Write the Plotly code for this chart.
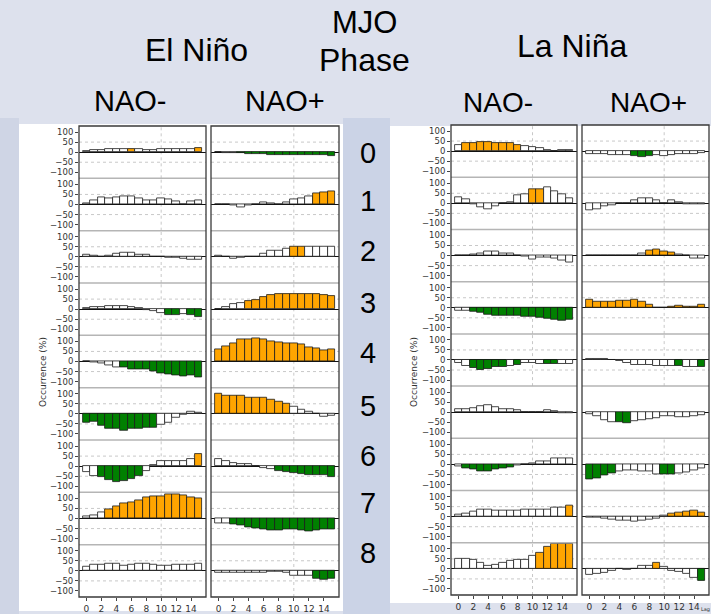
import plotly.graph_objects as go

W, H = 711, 614

lags = list(range(16))
phases = ["0", "1", "2", "3", "4", "5", "6", "7", "8"]
ytick_vals = [-100, -50, 0, 50, 100]
ytick_text = ["\u2212100", "\u221250", "0", "50", "100"]
xtick_vals = [0, 2, 4, 6, 8, 10, 12, 14]
xtick_text = ["0", "2", "4", "6", "8", "10", "12", "14"]

# Occurrence (%) by lag, rows = MJO phase 0..8
elnino_naom = [
    [8, 9, 11, 14, 15, 15, 15, 14, 13, 13, 14, 14, 14, 14, 14, 22],
    [4, 22, 37, 33, 37, 40, 40, 33, 19, 22, 32, 27, 16, 3, 16, 20],
    [10, 8, 3, 7, 15, 22, 20, 12, 12, 3, -1, -2, -5, -8, -13, -13],
    [4, 10, 12, 14, 14, 14, 10, 4, -6, -10, -20, -27, -27, -25, -30, -40],
    [3, -3, -8, -18, -28, -30, -40, -38, -38, -50, -57, -62, -67, -72, -70, -78],
    [-42, -40, -58, -72, -76, -85, -75, -75, -70, -70, -55, -42, -20, -5, 10, 5],
    [-30, -48, -55, -70, -77, -75, -65, -47, -25, 8, 25, 28, 28, 28, 38, 58],
    [12, 15, 30, 48, 60, 75, 78, 90, 105, 110, 110, 120, 120, 116, 105, 100],
    [22, 30, 33, 35, 38, 28, 30, 38, 37, 33, 28, 28, 33, 30, 30, 35],
]
elnino_naom_sig = [
    "wwwwwwowwwwwwwwo", "wwwwwwwwwwwwwwww", "wwwwwwwwwwwwwwww",
    "wwwwwwwwwwwggwgg", "wwwwwggggggggggg", "ggggggggggwwwwww",
    "wwggggggwwwwwwwo", "wwwooooooooooooo", "wwwwwwwwwwwwwwww",
]
elnino_naop = [
    [-1, -2, -3, -6, -8, -8, -10, -12, -12, -12, -12, -13, -13, -13, -15, -20],
    [3, 3, -3, -12, -3, 2, 10, 7, 3, 12, 25, 33, 42, 55, 60, 67],
    [5, 0, -7, -5, 0, 3, 18, 30, 30, 42, 50, 52, 52, 52, 52, 52],
    [3, 12, 25, 30, 42, 48, 58, 68, 73, 75, 73, 73, 77, 73, 72, 65],
    [60, 75, 92, 111, 112, 116, 112, 100, 95, 90, 88, 85, 72, 65, 55, 62],
    [100, 90, 90, 90, 82, 80, 80, 68, 58, 52, 35, 20, 10, 2, -12, -10],
    [35, 25, 15, 10, 12, 3, -8, -12, -22, -30, -35, -40, -45, -45, -45, -52],
    [-22, -25, -30, -33, -42, -48, -52, -58, -58, -55, -55, -58, -62, -60, -55, -55],
    [-8, -7, -8, -8, -8, -8, -8, -3, -3, -8, -22, -22, -25, -40, -42, -40],
]
elnino_naop_sig = [
    "wwwggggggggggggg", "wwwwwwwwwwwwwooo", "wwwwwwwwwwoowwww",
    "wwwwoooooooooooo", "oooooooooooooooo", "oooooooooowwwwww",
    "wwwwwwwwgggggggg", "wwgggggggggggggg", "wwwwwwwwwwwwwggg",
]
lanina_naom = [
    [30, 38, 42, 47, 45, 42, 42, 38, 32, 25, 20, 15, 5, 3, 5, 5],
    [32, 20, -5, -17, -27, -15, 0, 5, 38, 45, 72, 72, 80, 60, 45, 25],
    [2, 2, 5, 10, 20, 20, 12, 10, 3, -3, -17, -10, -8, -12, -25, -32],
    [-15, -15, -18, -25, -32, -38, -38, -38, -40, -45, -45, -48, -55, -60, -65, -58],
    [-12, -28, -38, -47, -42, -32, -32, -30, -25, -12, -15, -18, -18, -18, -18, -18],
    [15, 18, 22, 30, 35, 25, 18, 15, 10, 3, 0, 3, 10, 5, -3, -5],
    [-8, -20, -25, -33, -35, -25, -20, -15, -5, 3, 8, 15, 18, 28, 32, 28],
    [12, 18, 25, 35, 35, 30, 28, 28, 30, 35, 35, 35, 35, 43, 45, 53],
    [50, 50, 45, 28, 18, 20, 28, 40, 45, 45, 65, 82, 110, 125, 125, 125],
]
lanina_naom_sig = [
    "woooooooowwwwwww", "wwwwwwwwwwoowwww", "wwwwwwwwwwwwwwww",
    "wwgggggggggggggg", "wwgggggwgwwwggww", "wwwwwwwwwwwwwwww",
    "wgggggggwwwwwwww", "wwwwwwwwwwwwwwwo", "wwwwwwwwwwwooooo",
]
lanina_naop = [
    [-12, -12, -15, -20, -20, -20, -25, -28, -25, -20, -25, -20, -15, -13, -13, -10],
    [-32, -28, -15, -8, 0, 3, 15, 27, 27, 15, 3, 15, 8, -5, -5, -5],
    [3, 0, 2, 3, 3, 2, 3, 10, 25, 32, 22, 15, 8, 0, -12, -15],
    [38, 30, 30, 32, 36, 36, 42, 32, 15, 3, 3, 8, 12, 8, 8, 15],
    [5, 5, 8, 3, -5, -15, -22, -22, -22, -30, -30, -30, -30, -32, -32, -32],
    [-10, -20, -40, -48, -50, -52, -42, -40, -35, -28, -18, -18, -22, -22, -18, -15],
    [-75, -68, -55, -42, -32, -30, -30, -35, -35, -48, -50, -48, -42, -40, -30, -18],
    [-5, -5, -8, -12, -20, -18, -22, -18, -15, -8, 5, 15, 22, 25, 28, 22],
    [-30, -22, -18, -8, 2, -3, 3, 15, 18, 28, 10, -10, -15, -25, -42, -60],
]
lanina_naop_sig = [
    "wwwwwwgggwwwwwww", "wwwwwwwwwwwwwwww", "wwwwwwwwoooowwww",
    "ooooooooowwooooo", "wwwwwwwwwwwwgwwg", "wwwwggwwwwwwwwww",
    "ggggwwwwwwggwwww", "wwwwwwwwwwwooooo", "wwwwwwwwwowwwwwg",
]

sig_colors = {"w": "#ffffff", "o": "#ffa500", "g": "#008000"}

columns = [
    dict(vals=elnino_naom, sig=elnino_naom_sig, x0=79, x1=206, top=126, bottom=597, ylab=True),
    dict(vals=elnino_naop, sig=elnino_naop_sig, x0=211, x1=339, top=126, bottom=597, ylab=False),
    dict(vals=lanina_naom, sig=lanina_naom_sig, x0=451, x1=577, top=125, bottom=595, ylab=True),
    dict(vals=lanina_naop, sig=lanina_naop_sig, x0=582, x1=709, top=125, bottom=595, ylab=False),
]

def fx(px):
    return px / W

def fy(py):
    return 1 - py / H

fig = go.Figure()
layout = {}
shapes = []
annotations = []

# Background pieces
shapes.append(dict(type="rect", xref="paper", yref="paper", x0=0, x1=fx(19), y0=0, y1=fy(118),
                   fillcolor="#cfd5e5", line_width=0, layer="below"))
shapes.append(dict(type="rect", xref="paper", yref="paper", x0=fx(343), x1=fx(390), y0=0, y1=fy(118),
                   fillcolor="#cbd3e6", line_width=0, layer="below"))
shapes.append(dict(type="rect", xref="paper", yref="paper", x0=fx(19), x1=fx(343), y0=fy(611), y1=fy(124),
                   fillcolor="#ffffff", line_width=0, layer="below"))
shapes.append(dict(type="rect", xref="paper", yref="paper", x0=fx(390), x1=1, y0=fy(603), y1=fy(126),
                   fillcolor="#ffffff", line_width=0, layer="below"))

idx = 0
for ci, col in enumerate(columns):
    rh = (col["bottom"] - col["top"]) / 9.0
    for r in range(9):
        idx += 1
        sfx = "" if idx == 1 else str(idx)
        yt = col["top"] + r * rh
        yb = yt + rh
        bottom_row = (r == 8)
        fig.add_trace(go.Bar(
            x=lags, y=col["vals"][r], width=1.0,
            marker=dict(color=[sig_colors[c] for c in col["sig"][r]],
                        line=dict(color="#1a1a1a", width=0.8)),
            xaxis="x" + sfx, yaxis="y" + sfx, showlegend=False, hoverinfo="skip",
        ))
        layout["xaxis" + sfx] = dict(
            domain=[fx(col["x0"]), fx(col["x1"])], range=[-1, 16], anchor="y" + sfx,
            showgrid=False, zeroline=False, showline=False, fixedrange=True,
            tickvals=xtick_vals, ticktext=xtick_text,
            showticklabels=bottom_row, ticks="outside" if bottom_row else "",
            ticklen=3, tickcolor="#444",
            tickfont=dict(family="DejaVu Sans", size=9, color="#333"),
        )
        layout["yaxis" + sfx] = dict(
            domain=[fy(yb), fy(yt)], range=[-130, 130], anchor="x" + sfx,
            showgrid=False, zeroline=True, zerolinecolor="#111", zerolinewidth=1,
            showline=False, fixedrange=True,
            tickvals=ytick_vals, ticktext=ytick_text,
            showticklabels=col["ylab"], ticks="outside" if col["ylab"] else "",
            ticklen=3, tickcolor="#444",
            tickfont=dict(family="DejaVu Sans", size=8.5, color="#333"),
        )
        for yv in (-50, 50):
            shapes.append(dict(type="line", xref="x" + sfx + " domain", yref="y" + sfx,
                               x0=0, x1=1, y0=yv, y1=yv,
                               line=dict(color="#c8c8c8", width=1, dash="dot"), layer="below"))
        shapes.append(dict(type="line", xref="x" + sfx, yref="y" + sfx + " domain",
                           x0=10, x1=10, y0=0, y1=1,
                           line=dict(color="#c8c8c8", width=1, dash="dot"), layer="below"))
        if r > 0:
            shapes.append(dict(type="line", xref="paper", yref="paper",
                               x0=fx(col["x0"]), x1=fx(col["x1"]), y0=fy(yt), y1=fy(yt),
                               line=dict(color="#b5b5b5", width=1.5), layer="above"))
    shapes.append(dict(type="rect", xref="paper", yref="paper",
                       x0=fx(col["x0"]), x1=fx(col["x1"]), y0=fy(col["bottom"]), y1=fy(col["top"]),
                       line=dict(color="#3a3a3a", width=1.3), layer="above"))

def txt(s, x, y, size, color="black", family="Liberation Sans, Arial, sans-serif", angle=0):
    annotations.append(dict(text=s, x=fx(x), y=fy(y), xref="paper", yref="paper",
                            xanchor="center", yanchor="middle", showarrow=False,
                            textangle=angle, font=dict(family=family, size=size, color=color)))

txt("El Niño", 196, 50, 32)
txt("MJO", 364, 22, 31)
txt("Phase", 364, 60, 32)
txt("La Niña", 572, 46, 32)
txt("NAO-", 130, 101, 29)
txt("NAO+", 285, 101, 29)
txt("NAO-", 498, 103, 28)
txt("NAO+", 648, 103, 28)
phase_y = [153, 201, 251, 303, 353, 406, 456, 503, 553]
for p, yy in zip(phases, phase_y):
    txt(p, 368, yy, 29)
txt("Occurrence (%)", 43, 372, 9, color="#333", family="DejaVu Sans", angle=-90)
txt("Occurrence (%)", 414, 372, 9, color="#333", family="DejaVu Sans", angle=-90)
annotations.append(dict(text="Lag", x=1, y=0, xref="paper", yref="paper",
                        xanchor="right", yanchor="bottom", showarrow=False, borderpad=0,
                        font=dict(family="DejaVu Sans", size=5, color="#333")))

fig.update_layout(
    width=W, height=H, margin=dict(l=0, r=0, t=0, b=0),
    paper_bgcolor="#dde1ed", plot_bgcolor="#ffffff",
    shapes=shapes, annotations=annotations, bargap=0, **layout,
)

fig.write_html(
    "out.html",
    config={"displayModeBar": False},
    post_script="document.body.style.margin='0';document.body.style.padding='0';"
                "document.body.style.overflow='hidden';",
)
